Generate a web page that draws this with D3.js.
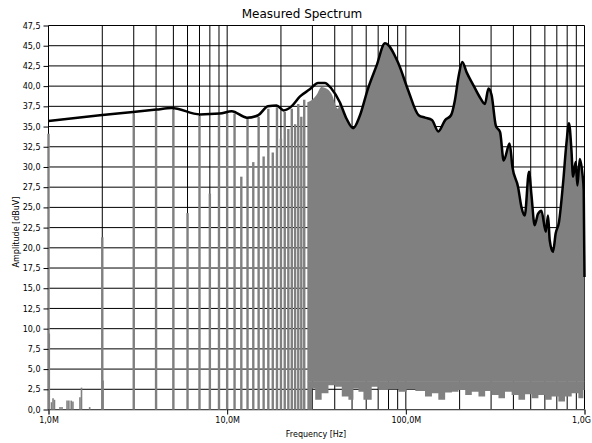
<!DOCTYPE html>
<html>
<head>
<meta charset="utf-8">
<script src="https://cdn.jsdelivr.net/npm/d3@7"></script>
<style>
  body { margin: 0; background: #fff; }
  svg { display: block; }
</style>
</head>
<body>
<svg></svg>
<script>
// envelope (black trace), MHz / dBuV
var envFreq = [1.0, 1.94, 2.97, 4.02, 4.88, 7.03, 9.09, 10.6, 12.9, 14.9, 16.9, 18.9, 20.7, 22.9, 25.5, 29.0, 32.3, 35.2, 38.3, 42.7, 46.5, 50.7, 55.2, 61.4, 68.5, 76.5, 90.9, 103, 118, 128, 140, 152, 166, 179, 188, 197, 207, 219, 239, 260, 277, 290, 302, 319, 337, 353, 381, 395, 425, 444, 463, 489, 505, 526, 549, 574, 607, 625, 639, 666, 690, 720, 758, 792, 819, 845, 863, 893, 913, 940, 973, 990, 1000];
var envLevel = [35.7, 36.4, 36.8, 37.1, 37.3, 36.5, 36.6, 36.9, 36.1, 36.4, 37.5, 37.6, 37.0, 37.5, 38.7, 39.6, 40.4, 40.4, 39.7, 38.0, 36.0, 34.8, 36.3, 39.7, 42.5, 45.3, 42.8, 39.5, 36.4, 36.1, 35.8, 34.4, 35.8, 36.4, 38.2, 41.1, 43.0, 41.7, 40.1, 38.6, 37.8, 39.7, 38.9, 35.1, 34.3, 30.8, 32.9, 30.0, 27.5, 25.0, 24.0, 29.4, 26.5, 22.8, 24.2, 24.6, 22.0, 24.0, 20.9, 19.5, 21.8, 23.2, 27.9, 32.9, 35.4, 32.1, 28.8, 30.6, 27.7, 31.0, 29.2, 27.1, 16.4];

// 1 MHz harmonics below the dense part
var harmFreq = [1, 2, 3, 4, 5, 6, 7, 8, 9, 10, 11, 12, 13, 14, 15, 16, 17, 18, 19, 20, 21, 22, 23, 24, 25, 26, 27];
var harmLevel = [34.1, 21.3, 36.6, 36.9, 37.1, 24.3, 36.3, 26.7, 36.4, 36.6, 36.6, 28.8, 36.0, 30.6, 36.2, 31.3, 37.2, 31.8, 37.4, 33.5, 36.8, 34.7, 37.2, 35.3, 37.8, 36.2, 38.3];

// small spurs between 1 and 2 MHz
var spurFreq = [1.01, 1.04, 1.06, 1.08, 1.16, 1.19, 1.27, 1.30, 1.34, 1.37, 1.50, 1.53, 1.70, 2.02];
var spurLevel = [9.4, 0.9, 1.4, 1.2, 0.3, 0.3, 1.1, 1.1, 1.1, 1.0, 1.5, 2.7, 0.3, 3.6];

// dense region: top edge before it meets the envelope, and noise floor
var denseFreq = [28.1, 30.2, 31.6, 33.7, 35.9, 38.3, 41.7];
var denseTop = [38.0, 38.4, 38.9, 39.9, 39.7, 39.1, 37.2];
var floorFreq = [28.1, 29.9, 30.0, 31.1, 33.8, 36.9, 40.2, 43.8, 47.7, 50.9, 54.3, 57.9, 64.4, 70.2, 79.9, 90.9, 101, 113, 128, 140, 152, 166, 181, 197, 215, 234, 255, 278, 302, 330, 359, 391, 427, 465, 506, 552, 601, 655, 714, 778, 848, 924, 986, 1000];
var floorLevel = [0, 0, 2.6, 1.2, 2.0, 3.0, 2.8, 1.6, 1.2, 2.6, 2.2, 1.2, 2.8, 2.4, 2.5, 2.2, 2.5, 2.3, 1.6, 2.0, 1.2, 2.1, 2.2, 2.4, 1.8, 2.2, 1.6, 2.3, 1.8, 1.4, 2.2, 1.8, 1.2, 1.9, 1.4, 1.8, 1.2, 1.6, 1.0, 1.6, 2.0, 1.4, 2.4, 2.4];

var xTicks = [1e6, 1e7, 1e8, 1e9];
var xTickLabels = ["1,0M", "10,0M", "100,0M", "1,0G"];
var yTicks = d3.range(0, 47.51, 2.5);

var svgWidth = 592, svgHeight = 443;
var gray = "#808080";
var font = "'DejaVu Sans', Verdana, sans-serif";

var svg = d3.select("svg")
    .attr("width", svgWidth)
    .attr("height", svgHeight);

svg.append("rect")
    .attr("width", "100%")
    .attr("height", "100%")
    .attr("fill", "white");

var x = d3.scaleLog().domain([1e6, 1e9]).range([48.5, 584.5]);
var y = d3.scaleLinear().domain([0, 47.5]).range([409.5, 25.5]);
var mhz = function (f) { return x(f * 1e6); };

// grid
svg.append("g").selectAll("line")
    .data(x.ticks())
    .join("line")
    .attr("x1", function (d) { return x(d); })
    .attr("x2", function (d) { return x(d); })
    .attr("y1", y(47.5))
    .attr("y2", y(0))
    .attr("stroke", "#000")
    .attr("stroke-width", 1);

svg.append("g").selectAll("line")
    .data(yTicks)
    .join("line")
    .attr("x1", x(1e6))
    .attr("x2", x(1e9))
    .attr("y1", function (d) { return y(d); })
    .attr("y2", function (d) { return y(d); })
    .attr("stroke", "#000")
    .attr("stroke-width", 1);

// dense spectrum region, drawn as two bands split at 3.5 dB:
// stepped noise floor up to the split, smooth top down to it
var split = 3.5;
var smooth = d3.line()
    .x(function (d) { return mhz(d[0]); })
    .y(function (d) { return y(d[1]); })
    .curve(d3.curveMonotoneX);
var stepped = d3.line()
    .x(function (d) { return mhz(d[0]); })
    .y(function (d) { return y(d[1]); })
    .curve(d3.curveStepAfter);

var topPts = denseFreq.map(function (f, i) { return [f, denseTop[i]]; })
    .concat(envFreq.map(function (f, i) { return [f, envLevel[i]]; })
        .filter(function (p) { return p[0] > denseFreq[denseFreq.length - 1]; }));
var floorPts = floorFreq.map(function (f, i) { return [f, floorLevel[i]]; });
var fLo = floorFreq[0], fHi = floorFreq[floorFreq.length - 1];

svg.append("path")
    .attr("fill", gray)
    .attr("stroke", "none")
    .attr("d", stepped(floorPts) + "L" + mhz(fHi) + "," + y(split) +
        "L" + mhz(fLo) + "," + y(split) + "Z");

svg.append("path")
    .attr("fill", gray)
    .attr("stroke", "none")
    .attr("d", smooth(topPts) + "L" + mhz(fHi) + "," + (y(split) + 0.5) +
        "L" + mhz(fLo) + "," + (y(split) + 0.5) + "Z");

// harmonic bars
svg.append("g").selectAll("line")
    .data(harmFreq.map(function (f, i) { return { f: f, v: harmLevel[i] }; }))
    .join("line")
    .attr("x1", function (d) { return mhz(d.f); })
    .attr("x2", function (d) { return mhz(d.f); })
    .attr("y1", y(0))
    .attr("y2", function (d) { return y(d.v); })
    .attr("stroke", gray)
    .attr("stroke-width", 2.4);

svg.append("g").selectAll("line")
    .data(spurFreq.map(function (f, i) { return { f: f, v: spurLevel[i] }; }))
    .join("line")
    .attr("x1", function (d) { return mhz(d.f); })
    .attr("x2", function (d) { return mhz(d.f); })
    .attr("y1", y(0))
    .attr("y2", function (d) { return y(d.v); })
    .attr("stroke", gray)
    .attr("stroke-width", 1.6);

// envelope
svg.append("path")
    .datum(envFreq.map(function (f, i) { return [f, envLevel[i]]; }))
    .attr("fill", "none")
    .attr("stroke", "#000")
    .attr("stroke-width", 2.5)
    .attr("stroke-linejoin", "round")
    .attr("d", smooth);

// axes
var xAxis = svg.append("g")
    .attr("transform", "translate(0," + y(0) + ")")
    .call(d3.axisBottom(x)
        .tickValues(xTicks)
        .tickSize(5)
        .tickPadding(3)
        .tickFormat(function (d, i) { return xTickLabels[i]; }));
xAxis.select(".domain").attr("stroke", "#999");
xAxis.selectAll(".tick text")
    .filter(function (d) { return d === 1e9; })
    .attr("text-anchor", "end")
    .attr("dx", 6);

var yAxis = svg.append("g")
    .attr("transform", "translate(" + x(1e6) + ",0)")
    .call(d3.axisLeft(y)
        .tickValues(yTicks)
        .tickSize(5)
        .tickPadding(3)
        .tickFormat(function (d) { return d.toFixed(1).replace(".", ","); }));
yAxis.select(".domain").remove();

svg.selectAll(".tick text")
    .attr("font-family", font)
    .attr("font-size", "8px")
    .attr("fill", "#000");

svg.append("text")
    .attr("x", 302)
    .attr("y", 18)
    .attr("text-anchor", "middle")
    .attr("font-family", font)
    .attr("font-size", "12px")
    .text("Measured Spectrum");

svg.append("text")
    .attr("x", 316)
    .attr("y", 437)
    .attr("text-anchor", "middle")
    .attr("font-family", font)
    .attr("font-size", "8px")
    .text("Frequency [Hz]");

svg.append("text")
    .attr("transform", "translate(19,232) rotate(-90)")
    .attr("text-anchor", "middle")
    .attr("font-family", font)
    .attr("font-size", "8px")
    .text("Amplitude [dBuV]");
</script>
</body>
</html>
